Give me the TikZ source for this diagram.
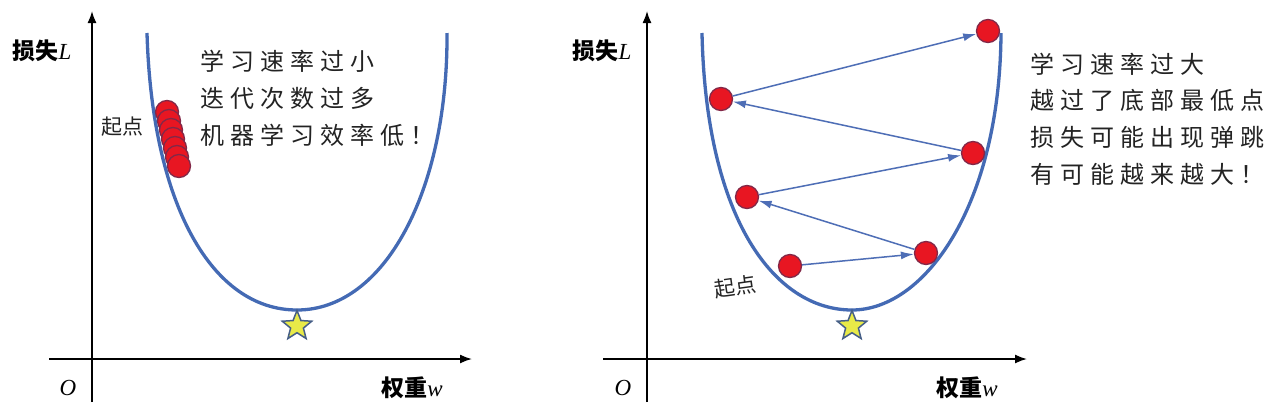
\documentclass[tikz,border=0pt]{standalone}
\usepackage{fontspec}
\setmainfont{Liberation Serif}
\newfontfamily\cjk{Noto Sans CJK SC}
\newfontfamily\hand[LetterSpace=25]{Noto Sans CJK SC}
\usetikzlibrary{arrows.meta,shapes.geometric}
\definecolor{curveblue}{RGB}{68,106,180}
\definecolor{arrowblue}{RGB}{78,110,182}
\definecolor{ballred}{RGB}{232,22,34}
\definecolor{ballrim}{RGB}{130,40,72}
\definecolor{staryellow}{RGB}{232,234,72}
\definecolor{starrim}{RGB}{70,95,135}
\definecolor{inkgray}{RGB}{35,35,35}
\begin{document}
\begin{tikzpicture}[x=1pt,y=-1pt,
  axis/.style={line width=1.6pt,-{Latex[length=12pt,width=9pt]}},
  loss/.style={draw=curveblue,line width=3.3pt},
  ball/.style={circle,fill=ballred,draw=ballrim,line width=1.3pt,minimum size=23pt,inner sep=0pt},
  goal/.style={star,star points=5,star point ratio=2.3,fill=staryellow,draw=starrim,line width=1.5pt,minimum size=31pt,inner sep=0pt},
  jump/.style={draw=arrowblue,line width=1.5pt,-{Latex[length=13pt,width=8pt]}},
  axlabel/.style={font=\fontsize{23}{26}\selectfont,inner sep=0pt},
  note/.style={font=\hand\fontsize{24}{30}\selectfont,color=inkgray,anchor=west,inner sep=0pt},
  start/.style={font=\cjk\fontsize{21}{24}\selectfont,color=inkgray,inner sep=0pt}
]
\useasboundingbox (0,0) rectangle (1280,413);
\fill[white] (0,0) rectangle (1280,413);

% ---------- left panel ----------
\coordinate (xa0) at (49,359);
\coordinate (xa1) at (472,359);
\coordinate (ya0) at (92,402);
\coordinate (ya1) at (92,11);
\draw[axis] (xa0) -- (xa1);
\draw[axis] (ya0) -- (ya1);
\node[axlabel] (lossA) at (42,51) {{\cjk\bfseries 损失}\textit{L}};
\node[axlabel] (originA) at (68,388) {\textit{O}};
\node[axlabel] (weightA) at (412,388) {{\cjk\bfseries 权重}\textit{w}};

\draw[loss] (147,33) .. controls (152,205) and (212,310) .. (297,310)
                     .. controls (385,310) and (448,190) .. (447,33);

\node[goal] (starA) at (297,326) {};
\foreach \i in {0,...,6}{
  \node[ball] (s\i) at ({167+2*\i},{112+9*\i}) {};
}
\node[start] (startA) at (122,127) {起点};
\node[note] (noteA1) at (200,61) {学习速率过小};
\node[note] (noteA2) at (200,98) {迭代次数过多};
\node[note] (noteA3) at (200,135) {机器学习效率低！};

% ---------- right panel ----------
\coordinate (xb0) at (603,359);
\coordinate (xb1) at (1027,359);
\coordinate (yb0) at (647,402);
\coordinate (yb1) at (647,11);
\draw[axis] (xb0) -- (xb1);
\draw[axis] (yb0) -- (yb1);
\node[axlabel] (lossB) at (602,51) {{\cjk\bfseries 损失}\textit{L}};
\node[axlabel] (originB) at (623,388) {\textit{O}};
\node[axlabel] (weightB) at (967,388) {{\cjk\bfseries 权重}\textit{w}};

\draw[loss] (702,33) .. controls (706,220) and (775,310) .. (852,310)
                     .. controls (925,310) and (1000,205) .. (1001,33);

\node[goal] (starB) at (852,326) {};
\node[ball] (b1) at (790,266) {};
\node[ball] (b2) at (926,253) {};
\node[ball] (b3) at (747,197) {};
\node[ball] (b4) at (973,153) {};
\node[ball] (b5) at (721,99) {};
\node[ball] (b6) at (988,31) {};
\draw[jump] (b1) -- (b2);
\draw[jump] (b2) -- (b3);
\draw[jump] (b3) -- (b4);
\draw[jump] (b4) -- (b5);
\draw[jump] (b5) -- (b6);
\node[start,rotate=8] (startB) at (735,287) {起点};
\node[note] (noteB1) at (1030,64) {学习速率过大};
\node[note] (noteB2) at (1030,100) {越过了底部最低点};
\node[note] (noteB3) at (1030,137) {损失可能出现弹跳};
\node[note] (noteB4) at (1030,174) {有可能越来越大！};
\end{tikzpicture}
\end{document}
